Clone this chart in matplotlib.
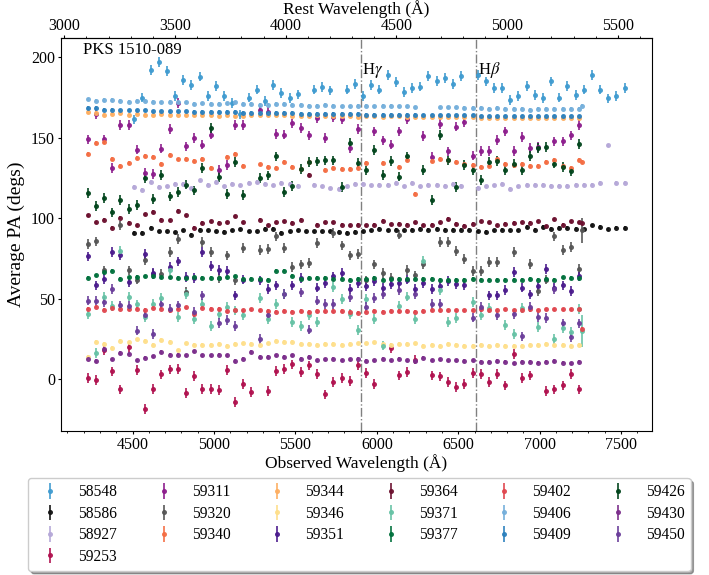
"""
PKS 1510-089 : average PA vs wavelength
"""
import numpy as np
import matplotlib.pyplot as plt
from matplotlib.ticker import AutoMinorLocator

plt.rcParams['font.family'] = ['Liberation Serif', 'DejaVu Serif']
plt.rcParams['mathtext.fontset'] = 'stix'

N = np.nan
z = 0.36  # redshift

# ----- wavelength bins (observed, Angstrom) -----
wave_main = np.append(4224 + 50.3 * np.arange(61), 7262)
wave_ext = 4510 + 50.2 * np.arange(61)
rest_ticks = [3000, 3500, 4000, 4500, 5000, 5500]

# ----- average PA per epoch (degs) -----
pa_58548 = [161.5, 175, 192, 197, 191.5, 176, 186, 183, 188, 176,
            182, 176, 171.6, 164.6, 175, 180, 173, 183, 177.8, 174.7,
            177, N, 180, 181.6, 179.5, N, 180, 183.4, 176, 183,
            180, 189, 184.7, 178.5, 181, 181.8, 188.6, 185.5, 187, 183.4,
            188.6, N, 189, 185, 181, 181, 173.7, 176, 182, 176.8,
            174.7, 185, 175, 182, 176.8, 180, 189, 180, 174.5, 176,
            181]
pa_58586 = [90.9, 90.9, 94.2, 92, 92, 91.3, 92.5, 89.9, 93, 92.5,
            92, 91.5, 92.5, 93.2, 92, 92, 93.6, 93.6, 90.9, 92,
            92.5, 92, 92, 92, 92, 91.5, 91, 91.5, 92, 92.5,
            93.6, 92.5, 93, 92.5, 93, 93.6, 93, 93.6, 93, 93,
            93, 93, 92, 91.5, 92.5, 93, 92.5, 92.5, 94.6, 93,
            94.6, 93.6, 94, 94.2, 93.6, 93.2, 95.6, 94.6, 93.2, 94.2,
            94]
pa_58927 = [119.5, 117.8, 122.6, 119.5, 120, 121.5, 121.5, 118.8, 123.6, 121,
            122.6, 120, 121.5, 120.5, 122, 122.6, 121.5, 120.5, 122, 121.5,
            120.3, N, 121, 120, 118.6, 118.2, 119.9, 121.5, 121.5, 120.5,
            121, 121, 122, 120, 122, 120, 121, 121, 120.3, 121.5,
            120.3, N, 119, 120, 120.5, 121.5, 118.4, 120, 121, 121,
            121, 120.3, 120.3, 120.3, 121, 121, 121, 122, 145.3, 122,
            122.2]
pa_59253 = [0.8, -0.2, 18.4, 5, -6.2, 20, 6, -18.2, -5.8, 3.1,
            6.2, 6.6, -8.3, 2.1, -5.8, -5.8, -6.4, 6, -14, -2.7,
            -7.9, N, -7.2, 5.2, 6.6, 9.3, 4.6, 8.7, 3.5, -9.3,
            -1.7, 0.8, -1, 8.7, 4.1, -2.7, N, 19.7, 2.5, 4.6,
            12.4, N, 2.5, 1.9, -1.7, -4.8, -2.7, 4.1, 3.5, -1.7,
            3.5, -3.7, 16, 0.8, 2.5, N, -7.2, -6.2, -3.7, 3.5,
            -6.2, N]
pa_59311 = [149, 164.6, 149, 131.3, 157.8, 157.8, 142.7, 128.4, 127.7, 143.3,
            155.7, 171.6, 144.7, 149.9, 145.8, 152, 130.2, 133, 157.8, 157.8,
            N, 167, 166, 152.6, 152, 159, 156, 151.5, 162.5, 150,
            163, 161.7, 143.9, 155.7, N, 154, 148.4, 145.8, 154, 161.7,
            N, 151, 138, 158.8, 141.6, 157, 159.8, 139, 142, 142,
            148.8, 154, 142, 150.5, 143.7, 144.3, N, 147.8, 147.8, 151.5,
            158, N]
pa_59320 = [84.3, 85.7, 67.7, N, 95.7, 67.7, 62, 74.3, 65.6, 65.6,
            79, 87.4, 54.2, N, 85.3, 79, 63, 77, 61.5, 81.8,
            N, 80.5, 81.2, 88.8, 81.8, 69.8, 71.4, 72.3, 84.7, N,
            91, 83.2, 77, 78, 61.5, 71.4, 66, 63, 90, 68,
            64.6, 71.4, N, 85.3, 85.3, 79.7, 75, 67.3, 67.3, 72.9,
            72.9, N, 79, N, 71.8, 54.9, 62, 88.8, 80.5, 82.2,
            68.7, 92.5]
pa_59340 = [140.2, 146.8, 147.4, 137, 132.3, 134.4, 137.7, 138.7, 138, 134,
            139.5, 136.6, 137, 135.6, 137, 131.3, N, 138, 139.8, 132.5,
            N, 133.5, 131.7, 131.5, 134.8, 131.9, 130.6, 135, N, 130.2,
            131.3, 130.6, 130.8, 131.5, 134.4, N, 134.4, N, 131.9, 136.4,
            115.3, N, 135.6, 136.9, 136, 135, 133.5, 133, 132, 132.7,
            137, 134, 133, 134, 132.7, 132.5, 134.8, 136.4, 132.7, 131.5,
            136, 135.2]
pa_59344 = [166, 165.5, 164.5, 165, 165.5, 164.5, 165, 164.5, 164.5, 165,
            164.5, 164.5, 164, 164, 164, 164, 163.5, 164, 163.5, 163.5,
            164, 164, 164, 164, 164, 163.5, 163.5, 163.5, 164, 163.5,
            163.5, 163.5, 163.5, 163, 163.5, 163.5, 163, 163.5, 163.5, 163,
            163, 163, 163, 163, 163, 163, 163, 163, 162.5, 162.5,
            162.5, 162.5, 162.5, 162.5, 162.5, 162.5, 162.5, 162.5, 162.5, 162.5,
            162.5, N]
pa_59346 = [14, 23.5, 22, 19.5, 24, 23, 25, 24, 21.5, 24.5,
            23.5, 18, 22.5, 21.5, 21.5, 21.5, 22, 21, 22, 22.5,
            22, 21.5, 22.5, 24, 23.5, 23.5, 22, 22, 21.5, 22,
            22, 21.5, 22, 22.5, 22.5, 23, 22, 21.5, 22, 22,
            22.5, 21, 21.5, 21, 22, 21.5, 21, 21, 21.5, 21,
            21.5, 21, 21, 21, 21.5, 21.5, 22, 21.5, 21.5, 21,
            21.5, N]
pa_59351 = [76.4, 58.4, 62.5, 79, 77, 60.5, N, 78, 66, N,
            69.8, 73.3, 63.6, 63, 79, 70.4, 68, 67.3, 52.2, 62,
            N, 61.5, 56.3, 58.4, N, 58.4, 63, N, 57, 60,
            64, 66, 56, 60, 58, 61, 57, 59.4, 60, 62,
            56, 60, 56, 58, 61, 59.4, 58.4, N, N, 52.2,
            52.2, 55.7, 66.7, 57, 52.8, 57.8, 68.7, 57, 58.4, 55,
            64, N]
pa_59364 = [101.9, 97.7, 99.2, 94.2, 100.4, 97.1, 95.7, 102.5, 104, 99.2,
            98.8, 104.6, 101.9, 94.2, 97.1, 98.3, 97.1, 97.7, 101.2, 97.7,
            N, 99.2, 95.7, 97.7, 98.1, 97.1, 99.2, 127, 96, 97.5,
            97.7, 96, 95.7, 96, 95.7, 96, 98.6, 96.3, 96.7, 96,
            97.5, 95.7, 96, 97.5, 99.6, 96.5, 95.4, 96.7, 98.1, 97.7,
            95.7, 96.7, 97.1, 97.5, 97.3, 98.1, 95.2, 99.4, 96, 98.1,
            97.5, 97]
pa_59371 = [40.4, 16.6, 51, 45.5, 79.7, 51.5, 46.6, 38.7, 47, 50.5,
            67.7, 38.7, 53.2, 37.7, 47, 33, 40.8, 45, 42.9, 39.8,
            N, 50.5, 37.7, 47, 53.2, 35.6, 33, 39.8, 35.6, N,
            57.3, 50, 40.8, 30.8, 50, 37.7, 21, N, 45.5, 51.5,
            37.5, 73.5, N, 55.7, 35.6, 38.3, N, 48, 40, 44.3,
            N, 34, 28.4, 44.5, N, 32.5, N, 25.3, 32, 29.4,
            43.9, 30]
pa_59377 = [63.1, 64.6, 66.5, 67.5, 62.5, 63.5, 63.6, 64, 64, 63.5,
            63.5, 63, 63, 63.5, 63, 63, 63, 63.5, 64, 62.5,
            62.5, 62.5, 62, 67.5, 67.5, 64.5, 62.5, 63, 63, 63,
            62.5, 62.5, 62, 62.5, 62.5, 63, 62, 62.5, 62.5, 62.5,
            62.5, 62.5, 62.5, 62, 62, 62, 62, 62.5, 62, 62,
            62, 62, 62, 62, 62.5, 62, 62.5, 62, 63.5, 63,
            63, N]
pa_59402 = [43.9, 45.3, 43.3, 44.5, 44, 43.5, 43.9, 43.3, 44.5, 43.9,
            42.9, 43.9, 44.9, 40.8, 44.5, 43.9, 43.9, 42.5, 43.3, 42.9,
            43.5, 43, 42.5, 42, 42.5, 42, 42.5, 42, 42.5, 42.5,
            42.5, 42.5, 42, 41.5, 42, 42.5, 42, 42.5, 42.5, 42.5,
            42, 42.5, 43, 43, 43, 43, 43, 43, 43.5, 43,
            43, 43.5, 43, 43, 43.5, 43, 43.5, 43.5, 43.5, 43.5,
            44, 31.5]
pa_59406 = [174, 173, 173.5, 173.5, 173, 172.5, 173, 173, 172.5, 172,
            172.5, 172, 172, 171, 171.5, 171, 171, 171.5, 172, 171,
            171, 170.5, 170.5, 171, 171, 170.5, 170.5, 170, 170, 170.5,
            170, 169.5, 169.5, 170, 170, 169.5, 170, 170, 169.5, 169.5,
            169, N, N, 169, 169, 169, 168.5, 168.5, 168.5, 168,
            168.5, 168, 168, 168, 167.5, 168, 168, 168, 168, 168,
            168, 170]
pa_59409 = [168.5, 168.5, 167.5, 167.5, 167, 167, 167, 167, 166.5, 166.5,
            166.5, 166.5, 166.5, 166, 166, 166, 166, 166, 166, 165.5,
            165.5, 165.5, 165.5, 165.5, 165.5, 165.5, 165, 165, 165, 165,
            165, 165, 165, 165, 164.5, 164.5, 164.5, 164.5, 164.5, 164.5,
            164.5, 164, 164, 164, 164, 164, 164, 164, 163.5, 163.5,
            163.5, 163.5, 163.5, 163.5, 163.5, 163.5, 163.5, 163.5, 163.5, 163.5,
            163.5, N]
pa_59426 = [115.9, 107.6, 112.6, 103.7, 111.6, 106, 108.5, 125, 112.2, 127,
            113.7, 116.4, 121, 117.4, 131.5, 156.3, 125.7, 115, 135, 114.7,
            N, 125, 126.7, 138.5, 116.4, 120, 130.8, 135, 135.4, 136,
            136, 119.5, 146.8, 134.4, 129.8, 142.6, 127, 135.6, 126, 138.5,
            N, 130, 111.6, 151.8, 136, 119.5, 133.3, 129.8, 124, 135,
            135.6, 129.8, 134, 129.8, 138.7, 143.9, 144.3, 134, 131.9, 129.2,
            146, N]
pa_59430 = [13, 11.5, 19, 12.5, 16.5, 16, 12, 13.5, 14.5, 17,
            15.5, 15.5, 15, 17.5, 15, 15, 15.5, 15, 11.5, 13,
            17, 14, 14, 15, 14, 15, 13, 14, 12, 12.5,
            13, 12, 12.5, 13, 11.5, 12, 13, 12, 13, 12,
            11.5, 13.5, 12, 12.5, 12, 12, 11.5, 12, 11, 11,
            11.5, 11, 10, 11, 11, 10.5, 11, 11.5, 10.5, 10,
            11, N]
pa_59450 = [49, 49, 48, 56, 46, 45.5, 30.4, 39.8, 28.4, 47,
            44, 46, N, 42, 52.2, N, 35, 37, 33, N,
            N, 25.3, 39.8, N, 53, N, 54, 31, 49, 47,
            47, N, 51, N, 45, 50.7, 53, N, 55.7, N,
            53, N, 47, 47, N, N, N, 38.4, 45, N,
            39.8, N, 40.4, 26.7, 45, 38.7, 38.2, 56.3, 34.8, 26.3,
            34.8, N]

# (label, bins, values, error, colour)
series = [
    ('58548', wave_ext, pa_58548, 3.0, '#3f9bd0'),
    ('58586', wave_ext, pa_58586, 1.0, '#111111'),
    ('58927', wave_ext, pa_58927, 1.0, '#b5a8d8'),
    ('59253', wave_main, pa_59253, 3.0, '#b0104e'),
    ('59311', wave_main, pa_59311, 3.0, '#8c1c8c'),
    ('59320', wave_main, pa_59320, 3.0, '#555555'),
    ('59340', wave_main, pa_59340, 1.2, '#f46d43'),
    ('59344', wave_main, pa_59344, 1.0, '#fdae61'),
    ('59346', wave_main, pa_59346, 1.0, '#fedf8b'),
    ('59351', wave_main, pa_59351, 3.0, '#4a1a8c'),
    ('59364', wave_main, pa_59364, 1.0, '#6b0f2e'),
    ('59371', wave_main, pa_59371, 3.0, '#66c2a5'),
    ('59377', wave_main, pa_59377, 1.0, '#00703c'),
    ('59402', wave_main, pa_59402, 1.0, '#e0464e'),
    ('59406', wave_main, pa_59406, 1.0, '#74afdb'),
    ('59409', wave_main, pa_59409, 1.0, '#2b80bd'),
    ('59426', wave_main, pa_59426, 3.0, '#00441b'),
    ('59430', wave_main, pa_59430, 1.0, '#7b2d8b'),
    ('59450', wave_main, pa_59450, 3.0, '#6a3d9a'),
]

# ----- plot -----
fig = plt.figure(figsize=(7.09, 5.75), dpi=100)
ax = fig.add_axes([0.086, 0.2504, 0.8336, 0.6835])

for lab, wl, pa, err, col in series:
    pa = np.array(pa, dtype=float)
    yerr = np.full(len(pa), err)
    if lab in ('59320', '59371'):
        yerr[-1] = 8 if lab == '59320' else 10
    ax.errorbar(wl, pa, yerr=yerr, fmt='o', ms=2.6, color=col,
                ecolor=col, elinewidth=1.3, capsize=0, alpha=0.9,
                label=lab)

h_gamma = 4340.5 * (1 + z)
h_beta = 4861.3 * (1 + z)
for wl, name in [(h_gamma, r'H$\gamma$'), (h_beta, r'H$\beta$')]:
    ax.axvline(wl, color='gray', ls='-.', lw=1)
    ax.text(wl + 8, 186, name, fontsize=12, ha='left', va='bottom')

ax.text(0.037, 0.99, 'PKS 1510-089', transform=ax.transAxes,
        fontsize=12, ha='left', va='top')

ax.set_xlim(4060, 7690)
ax.set_ylim(-32, 212)
ax.set_xlabel('Observed Wavelength (Å)', fontsize=12.5, labelpad=1)
ax.set_ylabel('Average PA (degs)', fontsize=14, labelpad=4)
ax.tick_params(axis='x', which='major', labelsize=11.5, length=2.5, pad=1.5)
ax.tick_params(axis='x', which='minor', length=1.5)
ax.tick_params(axis='y', labelsize=11.5, length=2.5, pad=1.8)
ax.xaxis.set_minor_locator(AutoMinorLocator())

top = ax.secondary_xaxis('top', functions=(lambda x: x / (1 + z),
                                           lambda x: x * (1 + z)))
top.set_xticks(rest_ticks)
top.set_xlabel('Rest Wavelength (Å)', fontsize=12.5, labelpad=2.5)
top.tick_params(which='major', labelsize=11.5, length=2.5, pad=0.5)
top.tick_params(which='minor', length=1.5)
top.xaxis.set_minor_locator(AutoMinorLocator())

ax.legend(loc='upper center', bbox_to_anchor=(0.505, -0.12), ncol=6,
          fontsize=11.2, labelspacing=0.35, shadow=True, fancybox=True,
          borderaxespad=0)

fig.savefig('out.png', dpi=100)
